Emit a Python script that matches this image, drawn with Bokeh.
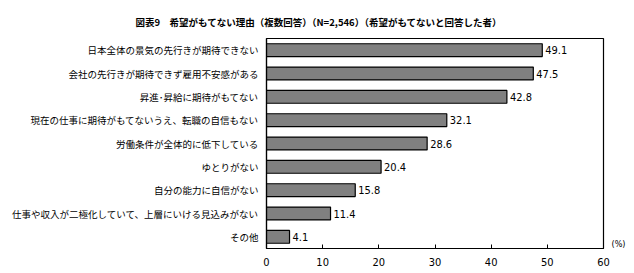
from bokeh.plotting import figure
from bokeh.models import FactorRange, Range1d, FixedTicker, CategoricalAxis, ColumnDataSource
from bokeh.core.properties import value
from bokeh.embed import file_html
from bokeh.resources import INLINE

title_text = "図表9　希望がもてない理由（複数回答）（N=2,546）（希望がもてないと回答した者）"
categories = [
    "日本全体の景気の先行きが期待できない",
    "会社の先行きが期待できず雇用不安感がある",
    "昇進･昇給に期待がもてない",
    "現在の仕事に期待がもてないうえ、転職の自信もない",
    "労働条件が全体的に低下している",
    "ゆとりがない",
    "自分の能力に自信がない",
    "仕事や収入が二極化していて、上層にいける見込みがない",
    "その他",
]
values = [49.1, 47.5, 42.8, 32.1, 28.6, 20.4, 15.8, 11.4, 4.1]
x_ticks = [0, 10, 20, 30, 40, 50, 60]
unit_label = "(%)"

JP = "Noto Sans CJK JP"
NUM = "Liberation Sans Narrow, DejaVu Sans Condensed, sans-serif"

src = ColumnDataSource(dict(cat=categories, val=values, lab=[f"{v:.1f}" for v in values]))

p = figure(
    width=634, height=273,
    y_range=FactorRange(factors=list(reversed(categories))),
    x_range=Range1d(0, 60),
    output_backend="svg", toolbar_location=None,
    min_border_left=266, min_border_right=31, min_border_top=38, min_border_bottom=25,
)
p.background_fill_color = "white"
p.border_fill_color = "white"
p.outline_line_color = "black"
p.outline_line_width = 1.2
p.xgrid.visible = False
p.ygrid.visible = False

p.title.text = title_text
p.title.align = "left"
p.title.offset = -131
p.title.standoff = 20
p.title.text_font = JP
p.title.text_font_style = "bold"
p.title.text_font_size = "9.5px"
p.title.text_color = "black"

p.hbar(y="cat", right="val", left=0, height=0.55, source=src,
       fill_color="#808080", line_color="black", line_width=1.2)
p.text(x="val", y="cat", text="lab", source=src, x_offset=3,
       text_baseline="middle", text_align="left",
       text_font=value(NUM), text_font_size="11px", text_color="black")

xa = p.xaxis[0]
xa.ticker = FixedTicker(ticks=x_ticks)
xa.major_tick_in = 4
xa.major_tick_out = 0
xa.minor_tick_line_color = None
xa.axis_line_color = "black"
xa.axis_line_width = 1.2
xa.major_label_standoff = 9
xa.major_label_text_font = NUM
xa.major_label_text_font_size = "11px"
xa.major_label_text_color = "black"

ya = p.yaxis[0]
ya.major_tick_in = 0
ya.major_tick_out = 0
ya.minor_tick_line_color = None
ya.axis_line_color = "black"
ya.axis_line_width = 1.2
ya.major_label_standoff = 8
ya.major_label_text_font = JP
ya.major_label_text_font_size = "9.5px"
ya.major_label_text_color = "black"

# unit label "(%)": a right-hand categorical axis whose only visible factor
# sits just at the bottom edge of the frame
p.extra_y_ranges = {"unit": FactorRange(factors=[unit_label, " "], range_padding=-0.48)}
ua = CategoricalAxis(y_range_name="unit")
ua.axis_line_color = None
ua.major_tick_line_color = None
ua.minor_tick_line_color = None
ua.major_label_standoff = 2
ua.major_label_text_baseline = "top"
ua.major_label_text_font = NUM
ua.major_label_text_font_size = "9px"
ua.major_label_text_color = "black"
p.add_layout(ua, "right")

open("out.html", "w").write(file_html(p, INLINE))
